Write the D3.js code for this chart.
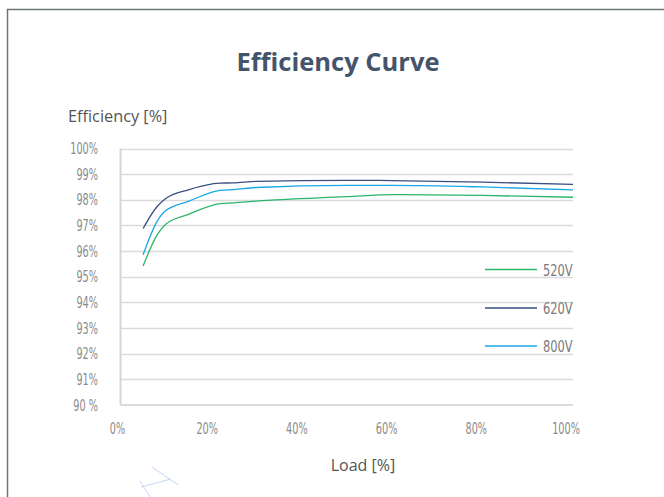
<!DOCTYPE html>
<html>
<head>
<meta charset="utf-8">
<script src="https://cdn.jsdelivr.net/npm/d3@7"></script>
<style>
  body { margin: 0; background: #fff; }
  svg { display: block; }
</style>
</head>
<body>
<div id="chart"></div>
<script>
// load points (%) and efficiency (%)
const loads = [5, 8, 10, 15, 22, 25, 30, 50, 60, 80, 100];
const eff520 = [95.42, 96.6, 97.05, 97.43, 97.85, 97.88, 97.95, 98.12, 98.2, 98.17, 98.1];
const eff620 = [96.88, 97.72, 98.05, 98.39, 98.65, 98.66, 98.72, 98.76, 98.75, 98.69, 98.6];
const eff800 = [95.86, 97.13, 97.58, 97.94, 98.37, 98.4, 98.48, 98.56, 98.56, 98.5, 98.39];
const seriesNames = ["520V", "620V", "800V"];
const seriesColors = ["#2cb56a", "#3a4f80", "#1aa7e6"];
const yTicks = [90, 91, 92, 93, 94, 95, 96, 97, 98, 99, 100];
const xTicks = [0, 20, 40, 60, 80, 100];

const W = 664, H = 497;
const svg = d3.select("#chart").append("svg").attr("width", W).attr("height", H);

// outer frame (only top and left edges visible)
svg.append("path")
  .attr("d", "M7.5," + H + "V9.5H" + W)
  .attr("fill", "none")
  .attr("stroke", "#6b7478")
  .attr("stroke-width", 1.5);

const x = d3.scaleLinear().domain([0, 100]).range([120.5, 573]);
const y = d3.scaleLinear().domain([90, 100]).range([405, 148.5]);

const labelFont = "'Open Sans', 'Noto Sans', sans-serif";

// title
svg.append("text")
  .attr("x", 338).attr("y", 71)
  .attr("text-anchor", "middle")
  .style("font-family", labelFont)
  .style("font-size", "25.5px")
  .style("font-weight", "bold")
  .style("fill", "#44546a")
  .text("Efficiency Curve");

svg.append("text")
  .attr("x", 68).attr("y", 122)
  .style("font-family", labelFont)
  .style("font-size", "16.3px")
  .style("fill", "#555")
  .text("Efficiency [%]");

svg.append("text")
  .attr("x", 363).attr("y", 471)
  .attr("text-anchor", "middle")
  .style("font-family", labelFont)
  .style("font-size", "16px")
  .style("fill", "#555")
  .text("Load [%]");

// gridlines
svg.append("g")
  .selectAll("line")
  .data(yTicks.filter((d) => d > 90))
  .join("line")
  .attr("x1", x(0)).attr("x2", x(100))
  .attr("y1", (d) => Math.round(y(d)) + 0.5)
  .attr("y2", (d) => Math.round(y(d)) + 0.5)
  .attr("stroke", "#dadada")
  .attr("stroke-width", 1.3);

// left and bottom axis lines
svg.append("line")
  .attr("x1", x(0)).attr("x2", x(0))
  .attr("y1", y(100)).attr("y2", y(90))
  .attr("stroke", "#d6d6d6").attr("stroke-width", 2);
svg.append("line")
  .attr("x1", x(0)).attr("x2", x(100))
  .attr("y1", y(90)).attr("y2", y(90))
  .attr("stroke", "#cfcfcf").attr("stroke-width", 1.5);

// tick labels use a squeezed condensed face
const tickFont = "'DejaVu Sans Condensed', 'Liberation Sans Narrow', sans-serif";
const squeeze = "scale(0.8,1.15)";

svg.append("g")
  .selectAll("text")
  .data(yTicks)
  .join("text")
  .attr("transform", (d) => "translate(98," + (y(d) + 5.5) + ") " + squeeze)
  .attr("text-anchor", "end")
  .style("font-family", tickFont)
  .style("font-size", "13.5px")
  .style("fill", "#8a8a8a")
  .text((d) => (d === 90 ? "90 %" : d + "%"));

svg.append("g")
  .selectAll("text")
  .data(xTicks)
  .join("text")
  .attr("transform", (d) => "translate(" + (x(d) - 3 - d * 0.04) + ",434) " + squeeze)
  .attr("text-anchor", "middle")
  .style("font-family", tickFont)
  .style("font-size", "13.5px")
  .style("fill", "#8a8a8a")
  .text((d) => d + "%");

// curves
const allSeries = [eff520, eff620, eff800];
const line = d3.line()
  .x((d) => x(d[0]))
  .y((d) => y(d[1]))
  .curve(d3.curveMonotoneX);

svg.append("g")
  .selectAll("path")
  .data(allSeries)
  .join("path")
  .attr("d", (s) => line(loads.map((l, i) => [l, s[i]])))
  .attr("fill", "none")
  .attr("stroke", (s, i) => seriesColors[i])
  .attr("stroke-width", 1.3);

// legend
const legendY = [269.5, 308, 346];
const legend = svg.append("g")
  .selectAll("g")
  .data(seriesNames)
  .join("g")
  .attr("transform", (d, i) => "translate(0," + legendY[i] + ")");
legend.append("line")
  .attr("x1", 485).attr("x2", 537)
  .attr("stroke", (d, i) => seriesColors[i])
  .attr("stroke-width", 1.3);
legend.append("text")
  .attr("transform", "translate(543,6) scale(0.85,1.1)")
  .style("font-family", tickFont)
  .style("font-size", "15px")
  .style("fill", "#7a7a7a")
  .text((d) => d);

// faint stray marks near the bottom left
svg.append("g")
  .attr("stroke", "#b8cbe8")
  .attr("stroke-width", 0.8)
  .attr("fill", "none")
  .selectAll("line")
  .data([[152, 467, 178, 485], [141, 487, 171, 479], [140, 481, 150, 497]])
  .join("line")
  .attr("x1", (d) => d[0]).attr("y1", (d) => d[1])
  .attr("x2", (d) => d[2]).attr("y2", (d) => d[3]);
</script>
</body>
</html>
